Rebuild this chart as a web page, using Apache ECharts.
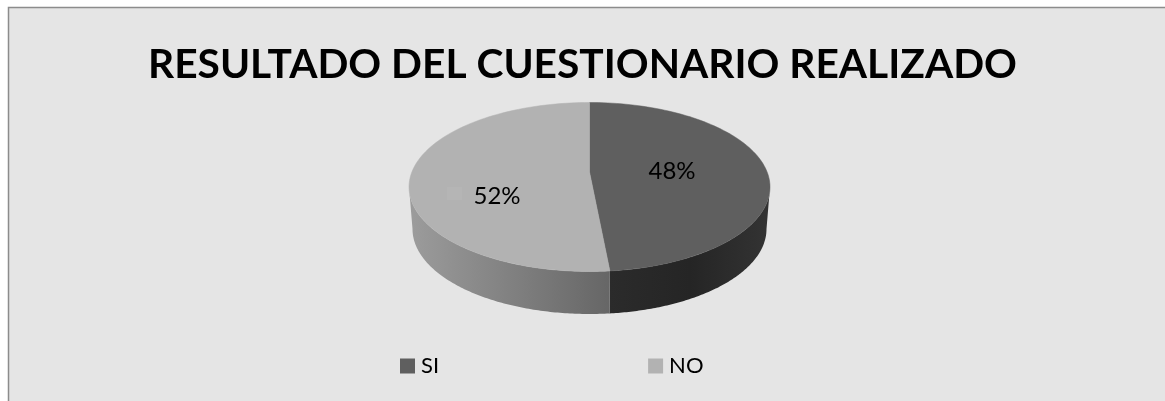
<!DOCTYPE html>
<html>
<head>
<meta charset="utf-8">
<style>html,body{margin:0;padding:0;background:#fff}#chart{width:1165px;height:401px}</style>
<script src="https://cdn.jsdelivr.net/npm/echarts@6/dist/echarts.min.js"></script>
</head>
<body>
<div id="chart"></div>
<script>
const categories = ['SI', 'NO'];
const seriesValues = [48, 52];
const sliceColors = ['#5f5f5f', '#b2b2b2'];
const chartTitle = 'RESULTADO DEL CUESTIONARIO REALIZADO';

// Geometry of the tilted disc, in pixels.
const top3d = { cx: 589.5, cy: 187, rx: 180.5, ry: 84.5, apexY: 172 };
const base3d = { cx: 589.5, cy: 229, rx: 177, ry: 85 };
const labelSpots = [{ x: 672, y: 171 }, { x: 497, y: 196 }];
const wallFills = [
  [[0, '#2b2b2b'], [0.5, '#252525'], [1, '#333333']],
  [[0, '#9c9c9c'], [1, '#666666']]
];

const total = seriesValues.reduce((a, b) => a + b, 0);

// Clockwise sweep from 12 o'clock, foreshortened by the tilt.
function warp(deg) {
  const r = deg * Math.PI / 180;
  let t = Math.atan2(Math.sin(r) * 0.9, Math.cos(r));
  if (t < 0) t += Math.PI * 2;
  return (deg >= 360) ? Math.PI * 2 : t;
}
function onEllipse(e, t) {
  return [e.cx + e.rx * Math.sin(t), e.cy - e.ry * Math.cos(t)];
}
function arcPoints(e, t0, t1) {
  const pts = [];
  const n = 120;
  for (let i = 0; i <= n; i++) pts.push(onEllipse(e, t0 + (t1 - t0) * i / n));
  return pts;
}

function sliceRenderer(index) {
  const before = seriesValues.slice(0, index).reduce((a, b) => a + b, 0);
  return function (params, api) {
    const value = api.value(0);
    const t0 = warp(before / total * 360);
    const t1 = warp((before + value) / total * 360);
    const children = [];

    // Side wall: only the part of the rim facing the viewer.
    const w0 = Math.max(t0, Math.PI / 2);
    const w1 = Math.min(t1, Math.PI * 1.5);
    if (w1 > w0) {
      const wall = arcPoints(top3d, w0, w1).concat(arcPoints(base3d, w0, w1).reverse());
      const fill = new echarts.graphic.LinearGradient(0, 0, 1, 0,
        wallFills[index].map(s => ({ offset: s[0], color: s[1] })));
      children.push({ type: 'polygon', shape: { points: wall }, style: { fill: fill }, z2: 1 });
    }

    // Upper face, closed at the apparent centre of the disc.
    const face = [[top3d.cx, top3d.apexY]].concat(arcPoints(top3d, t0, t1));
    children.push({
      type: 'polygon',
      shape: { points: face },
      style: { fill: sliceColors[index], stroke: sliceColors[index], lineWidth: 0.5 },
      z2: 2
    });

    children.push({
      type: 'text',
      x: labelSpots[index].x,
      y: labelSpots[index].y,
      style: {
        text: Math.round(value / total * 100) + '%',
        fontFamily: 'Lato',
        fontSize: 24,
        fill: '#000',
        align: 'center',
        verticalAlign: 'middle'
      },
      z2: 3
    });
    return { type: 'group', children: children };
  };
}

const chart = echarts.init(document.getElementById('chart'), null, { renderer: 'canvas' });
chart.setOption({
  animation: false,
  backgroundColor: '#ffffff',
  graphic: [{
    type: 'rect',
    shape: { x: 8.5, y: 7.5, width: 1170, height: 410 },
    style: { fill: '#e5e5e5', stroke: '#8c8c8c', lineWidth: 1.5 },
    z: -1
  }, {
    type: 'rect',
    shape: { x: 447, y: 187, width: 15, height: 13 },
    style: { fill: '#b5b5b5' },
    z: 5
  }],
  title: {
    text: chartTitle,
    left: 'center',
    top: 39,
    textStyle: { fontFamily: 'Lato', fontSize: 40.7, fontWeight: 'bold', color: '#000' }
  },
  legend: {
    data: categories,
    left: 395,
    top: 350,
    itemWidth: 15,
    itemHeight: 15,
    itemGap: 209,
    icon: 'rect',
    textStyle: { fontFamily: 'Lato', fontSize: 22, color: '#000', padding: [0, 0, 0, 1] }
  },
  series: categories.map((name, i) => ({
    type: 'custom',
    name: name,
    coordinateSystem: 'none',
    silent: true,
    itemStyle: { color: sliceColors[i] },
    renderItem: sliceRenderer(i),
    data: [[seriesValues[i]]]
  }))
});
</script>
</body>
</html>
